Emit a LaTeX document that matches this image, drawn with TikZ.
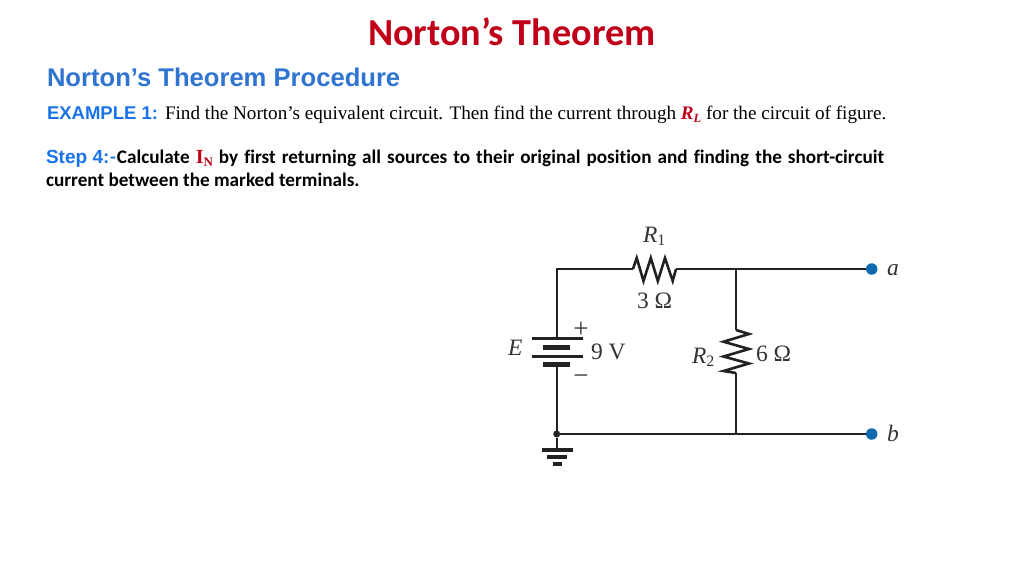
\documentclass[tikz,border=0pt]{standalone}
\usepackage{fontspec}
\setmainfont{Liberation Serif}
\newfontfamily\arialf{Liberation Sans}
\newfontfamily\calf[Ligatures={NoCommon}]{Carlito}
\newfontfamily\timesf{Liberation Serif}
\definecolor{titlered}{HTML}{C00018}
\definecolor{headblue}{HTML}{2F74D0}
\definecolor{exblue}{HTML}{1A73E8}
\definecolor{termblue}{HTML}{0F69AF}
\definecolor{wirecol}{HTML}{222222}
\definecolor{labcol}{HTML}{333333}
\tikzset{
  txt/.style={anchor=base west,inner sep=0pt,outer sep=0pt,text=black},
  lab/.style={anchor=base west,inner sep=0pt,outer sep=0pt,text=labcol,font=\timesf\fontsize{23.5}{26}\selectfont},
  sign/.style={anchor=base,inner sep=0pt,outer sep=0pt,text=labcol,font=\timesf\fontsize{27}{28}\selectfont},
  wire/.style={draw=wirecol,line width=2.1pt,line join=miter},
  zig/.style={draw=wirecol,line width=2.6pt,line join=miter},
  plate/.style={draw=wirecol,line width=3pt},
  thick plate/.style={draw=wirecol,line width=5pt},
  gplate/.style={draw=wirecol,line width=4pt},
  term/.style={circle,fill=termblue,minimum size=11.5pt,inner sep=0pt,outer sep=0pt},
  jdot/.style={circle,fill=wirecol,minimum size=7pt,inner sep=0pt,outer sep=0pt}
}
\newcommand{\subdig}[1]{\raisebox{-3.5pt}{\fontsize{16}{17}\selectfont #1}}
\begin{document}
\begin{tikzpicture}[x=1pt,y=-1pt]
\useasboundingbox (0,0) rectangle (1024,576);
% texts
\node[txt,text=titlered,font=\calf\bfseries\fontsize{38.2}{42}\selectfont] (title) at (368,45.5) {Norton’s Theorem};
\node[txt,text=headblue,font=\arialf\bfseries\fontsize{25.6}{30}\selectfont] (head) at (47,86.5) {Norton’s Theorem Procedure};
\node[txt,font=\timesf\fontsize{19.15}{22}\selectfont] (ex) at (47,119) {{\arialf\bfseries\fontsize{18.5}{22}\selectfont\color{exblue}EXAMPLE 1:}\hspace{7pt}Find the Norton’s equivalent circuit. Then find the current through {\bfseries\itshape\color{titlered}R\raisebox{-3pt}{\fontsize{12.5}{14}\selectfont L}} for the circuit of figure.};
\node[txt,font=\calf\bfseries\fontsize{19.2}{22}\selectfont] (step) at (46,163) {\hbox to 838pt{{\arialf\fontsize{19}{22}\selectfont\color{exblue}Step\hspace{5.5pt}4:}\hspace{0.5pt}{\color{exblue}-}\hspace{1pt}Calculate {\timesf\color{titlered}\fontsize{20}{22}\selectfont I\raisebox{-3pt}{\fontsize{13}{14}\selectfont N}} by first returning all sources to their original position and finding the short-circuit}};
\node[txt,font=\calf\bfseries\fontsize{19.2}{22}\selectfont] (step2) at (46,186) {current between the marked terminals.};
% junctions
\coordinate (tl) at (556.7,269);
\coordinate (r1a) at (633,269);
\coordinate (r1b) at (676,269);
\coordinate (top) at (736,269);
\coordinate (r2a) at (736,330);
\coordinate (r2b) at (736,373);
\coordinate (bot) at (736,434);
\coordinate (batp) at (556.7,338);
\coordinate (batn) at (556.7,364);
\coordinate (gnd) at (556.7,449);
\node[term] (a) at (871.7,269) {};
\node[term] (b) at (871.7,434) {};
\node[jdot] (j) at (556.7,434) {};
% wires
\draw[wire] (batp) -- (tl) -- (r1a);
\draw[wire] (r1b) -- (top) -- (a);
\draw[wire] (top) -- (r2a);
\draw[wire] (r2b) -- (bot);
\draw[wire] (batn) -- (j) -- (bot) -- (b);
\draw[wire] (j) -- (gnd);
% resistors
\draw[zig] (r1a) -- (636.7,258) -- (643.5,281) -- (650.8,258) -- (657.8,281) -- (665,258) -- (672.7,281) -- (r1b);
\draw[zig] (r2a) -- (749,334) -- (723.5,341.7) -- (749,349) -- (723.5,356.5) -- (749,363.5) -- (723.5,371) -- (r2b);
% battery
\draw[plate] (532,338.3) -- (583,338.3);
\draw[thick plate] (543,347.3) -- (570,347.3);
\draw[plate] (532,356) -- (583,356);
\draw[thick plate] (543,364.5) -- (570,364.5);
% ground
\draw[gplate] (542,449.5) -- (573,449.5);
\draw[gplate] (547,457) -- (567,457);
\draw[gplate] (552.7,464.3) -- (562,464.3);
% labels
\node[lab] (lr1) at (643,242) {\textit{R}\subdig{1}};
\node[lab] (lr1v) at (637,308) {3 Ω};
\node[sign] (plus) at (581,337) {+};
\node[sign] (minus) at (581,384) {−};
\node[lab] (le) at (508,355.5) {\textit{E}};
\node[lab] (lv) at (591,359) {9 V};
\node[lab] (lr2) at (692,363) {\textit{R}\subdig{2}};
\node[lab] (lr2v) at (756,361.5) {6 Ω};
\node[lab] (la) at (887,275) {\textit{a}};
\node[lab] (lb) at (887,441) {\textit{b}};
\end{tikzpicture}
\end{document}
